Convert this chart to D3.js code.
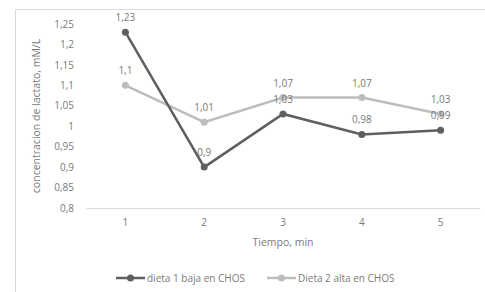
<!DOCTYPE html>
<html>
<head>
<meta charset="utf-8">
<script src="https://cdn.jsdelivr.net/npm/d3@7"></script>
<style>
  body { margin: 0; background: #fff; }
  svg text { font-family: "Open Sans", "Liberation Sans", sans-serif; }
</style>
</head>
<body>
<div id="chart"></div>
<script>
// chart data
var categories = ["1", "2", "3", "4", "5"];
var dieta1 = [1.23, 0.9, 1.03, 0.98, 0.99];
var dieta2 = [1.1, 1.01, 1.07, 1.07, 1.03];
var seriesNames = ["dieta 1 baja en CHOS", "Dieta 2 alta en CHOS"];
var yTicks = [0.8, 0.85, 0.9, 0.95, 1, 1.05, 1.1, 1.15, 1.2, 1.25];

var width = 485, height = 292;
var colors = ["#5f5f5f", "#bdbdbd"];
var textColor = "#7a7a7a";

var fmt = function(v) { return String(v).replace(".", ","); };

var svg = d3.select("#chart")
	.append("svg")
	.attr("width", width)
	.attr("height", height);

// frame
svg.append("rect")
	.attr("x", 15.5)
	.attr("y", 9.5)
	.attr("width", width + 10)
	.attr("height", height + 10)
	.style("fill", "none")
	.style("stroke", "#d9d9d9");

var x = d3.scaleBand()
	.domain(categories)
	.range([86, 480]);

var y = d3.scaleLinear()
	.domain([0.8, 1.25])
	.range([208, 24]);

// y axis labels
var yAxis = svg.append("g")
	.attr("transform", "translate(74,0)")
	.call(d3.axisLeft(y).tickValues(yTicks).tickSize(0).tickPadding(0).tickFormat(fmt));
yAxis.select(".domain").remove();
yAxis.selectAll("text")
	.style("font-size", "10px")
	.style("fill", textColor);

// x axis
var xAxis = svg.append("g")
	.attr("transform", "translate(0,208)")
	.call(d3.axisBottom(x).tickSize(0).tickPadding(11));
xAxis.select(".domain").style("stroke", "#d9d9d9");
xAxis.selectAll("text")
	.style("font-size", "10px")
	.style("fill", textColor);

// axis titles
svg.append("text")
	.attr("x", 283)
	.attr("y", 246)
	.attr("text-anchor", "middle")
	.text("Tiempo, min")
	.style("font-size", "10.5px")
	.style("fill", textColor);

svg.append("text")
	.attr("transform", "translate(40,116) rotate(-90)")
	.attr("text-anchor", "middle")
	.text("concentracion de lactato, mM/L")
	.style("font-size", "10.5px")
	.style("fill", textColor);

var cx = function(d, i) { return x(categories[i]) + x.bandwidth() / 2; };

var line = d3.line()
	.x(function(d, i) { return cx(d, i); })
	.y(function(d) { return y(d); });

// draw lighter series first, darker on top
[dieta2, dieta1].forEach(function(series, k) {
	var c = k === 0 ? colors[1] : colors[0];
	svg.append("path")
		.datum(series)
		.attr("d", line)
		.style("fill", "none")
		.style("stroke", c)
		.style("stroke-width", 2.5);
	svg.selectAll(null)
		.data(series)
		.enter()
		.append("circle")
		.attr("cx", cx)
		.attr("cy", function(d) { return y(d); })
		.attr("r", 3.5)
		.style("fill", c);
});

// data labels
[dieta1, dieta2].forEach(function(series) {
	svg.selectAll(null)
		.data(series)
		.enter()
		.append("text")
		.attr("x", cx)
		.attr("y", function(d) { return y(d) - 11; })
		.attr("text-anchor", "middle")
		.text(fmt)
		.style("font-size", "10px")
		.style("fill", textColor);
});

// legend
var legendX = [116, 267];
seriesNames.forEach(function(name, i) {
	var g = svg.append("g").attr("transform", "translate(" + legendX[i] + ",278)");
	g.append("line")
		.attr("x1", 0).attr("x2", 29)
		.attr("y1", 0).attr("y2", 0)
		.style("stroke", colors[i])
		.style("stroke-width", 2.5);
	g.append("circle")
		.attr("cx", 14.5).attr("cy", 0).attr("r", 3.5)
		.style("fill", colors[i]);
	g.append("text")
		.attr("x", 31).attr("y", 0)
		.attr("dy", ".35em")
		.text(name)
		.style("font-size", "10px")
		.style("fill", textColor);
});
</script>
</body>
</html>
